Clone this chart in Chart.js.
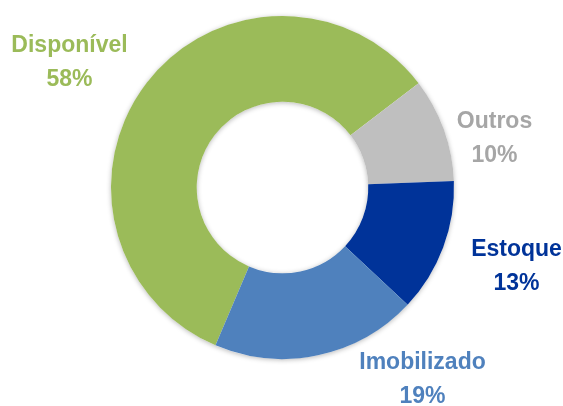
<!DOCTYPE html>
<html>
<head>
<meta charset="utf-8">
<script src="https://cdn.jsdelivr.net/npm/chart.js@4/dist/chart.umd.min.js"></script>
<style>
  html, body { margin: 0; padding: 0; background: #fff; }
  #wrap { width: 563px; height: 406px; }
</style>
</head>
<body>
<div id="wrap"><canvas id="donut"></canvas></div>
<script>
const categories = ["Disponível", "Outros", "Estoque", "Imobilizado"];
const shares = [58.2, 9.8, 12.6, 19.4];

const sliceColors = ["#9BBB59", "#BFBFBF", "#003399", "#4F81BD"];
const textColors = ["#9BBB59", "#A6A6A6", "#003399", "#4F81BD"];
// label block centre, relative to the doughnut centre
const labelOffsets = [[-213, -125], [212, -49], [234, 79], [140, 192]];

const ringShadow = {
  id: "ringShadow",
  beforeDatasetsDraw(chart) {
    const arc = chart.getDatasetMeta(0).data[0];
    if (!arc) return;
    const ctx = chart.ctx;
    ctx.save();
    ctx.shadowColor = "rgba(0,0,0,0.28)";
    ctx.shadowBlur = 5;
    ctx.shadowOffsetY = 1;
    ctx.fillStyle = "#fff";
    ctx.beginPath();
    ctx.arc(arc.x, arc.y, arc.outerRadius, 0, Math.PI * 2);
    ctx.arc(arc.x, arc.y, arc.innerRadius, 0, Math.PI * 2, true);
    ctx.fill();
    ctx.restore();
  }
};

const sliceLabels = {
  id: "sliceLabels",
  afterDatasetsDraw(chart) {
    const meta = chart.getDatasetMeta(0);
    const ctx = chart.ctx;
    const total = shares.reduce((a, b) => a + b, 0);
    ctx.save();
    ctx.font = "bold 23px 'Liberation Sans', Arial, sans-serif";
    ctx.textAlign = "center";
    ctx.textBaseline = "middle";
    meta.data.forEach((arc, i) => {
      const x = arc.x + labelOffsets[i][0];
      const y = arc.y + labelOffsets[i][1];
      ctx.fillStyle = textColors[i];
      ctx.fillText(categories[i], x, y - 17);
      ctx.fillText(Math.round(shares[i] / total * 100) + "%", x, y + 17);
    });
    ctx.restore();
  }
};

new Chart(document.getElementById("donut").getContext("2d"), {
  type: "doughnut",
  data: {
    labels: categories,
    datasets: [
      {
        data: shares,
        backgroundColor: sliceColors,
        borderWidth: 0,
      },
    ],
  },
  options: {
    responsive: true,
    maintainAspectRatio: false,
    animation: false,
    cutout: "50%",
    rotation: 203,
    layout: { padding: { top: 16, bottom: 47, left: 2, right: 0 } },
    plugins: {
      legend: { display: false },
      tooltip: { enabled: false },
    },
  },
  plugins: [ringShadow, sliceLabels],
});
</script>
</body>
</html>
